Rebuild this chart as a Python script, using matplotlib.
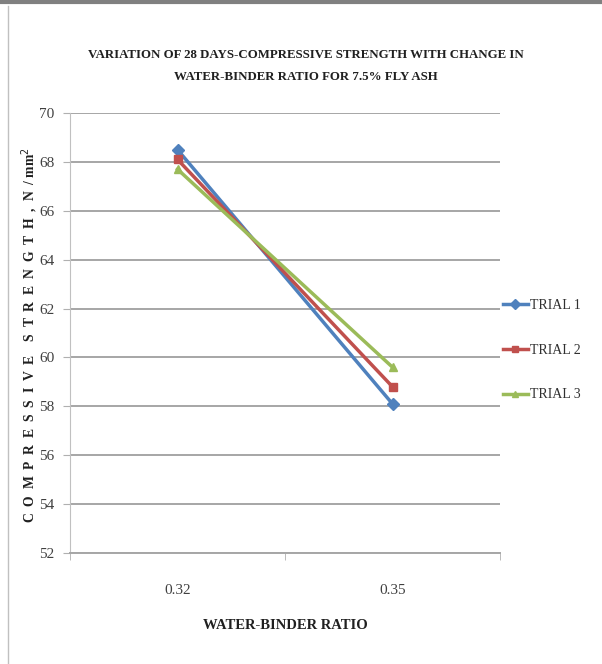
import matplotlib
matplotlib.use("Agg")
import matplotlib.pyplot as plt
from matplotlib.lines import Line2D

categories = ["0.32", "0.35"]
trial1 = [68.5, 58.1]
trial2 = [68.1, 58.8]
trial3 = [67.7, 59.6]
series_names = ["TRIAL 1", "TRIAL 2", "TRIAL 3"]
y_ticks = [52, 54, 56, 58, 60, 62, 64, 66, 68, 70]

colors = ["#4F81BD", "#C0504D", "#9BBB59"]
markers = ["D", "s", "^"]

W, H = 602, 664
fig = plt.figure(figsize=(W / 100, H / 100), dpi=100)
fig.patch.set_facecolor("white")

ax = fig.add_axes([70 / W, 1 - 553 / H, 430 / W, 440 / H])
xs = list(range(len(categories)))
for vals, c, m, name in zip([trial1, trial2, trial3], colors, markers, series_names):
    ax.plot(xs, vals, color=c, marker=m, markersize=6, linewidth=2.5, label=name)

ax.set_xlim(-0.5, len(categories) - 0.5)
ax.set_ylim(52, 70)
ax.set_yticks(y_ticks)
ax.set_yticklabels([str(t) for t in y_ticks], family="Liberation Serif", fontsize=11, color="#404040")
ax.set_xticks(xs)
ax.set_xticklabels(categories, family="Liberation Serif", fontsize=11, color="#404040")
ax.set_xticks([-0.5, 0.5, 1.5], minor=True)
ax.tick_params(axis="x", which="major", length=0, pad=22)
ax.tick_params(axis="x", which="minor", length=5, color="#b0b0b0", direction="out")
ax.tick_params(axis="y", length=5, color="#b0b0b0", pad=6)
ax.grid(axis="y", color="#a6a6a6", linewidth=1.4)
ax.set_axisbelow(True)
for s in ["top", "right"]:
    ax.spines[s].set_visible(False)
ax.spines["left"].set_color("#c0c0c0")
ax.spines["bottom"].set_color("#a6a6a6")
ax.spines["bottom"].set_linewidth(1.4)

ax.set_xlabel("WATER-BINDER RATIO", family="Liberation Serif", fontweight="bold",
              fontsize=10.5, labelpad=16, color="#202020")

ylab_main = "  ".join("COMPRESSIVE") + "    " + "  ".join("STRENGTH,N/")
fig.text(30 / W, 1 - 335 / H, ylab_main + " mm$^2$",
         rotation=90, ha="center", va="center", family="Liberation Serif",
         fontweight="bold", fontsize=9.8, color="#202020")

fig.text(306 / W, 1 - 66 / H,
         "VARIATION OF 28 DAYS-COMPRESSIVE STRENGTH WITH CHANGE IN\nWATER-BINDER RATIO FOR 7.5% FLY ASH",
         ha="center", va="center", family="Liberation Serif", fontweight="bold",
         fontsize=9.3, linespacing=2.2, color="#202020")

handles, labels = ax.get_legend_handles_labels()
leg = fig.legend(handles, labels, loc="center left", bbox_to_anchor=(490 / W, 1 - 350 / H),
                 frameon=False, handlelength=1.8, handletextpad=0.2, labelspacing=2.3,
                 prop={"family": "Liberation Serif", "size": 10}, markerscale=0.8)
for t in leg.get_texts():
    t.set_color("#303030")

fig.add_artist(Line2D([0, 1], [1 - 2 / H, 1 - 2 / H], transform=fig.transFigure,
                      color="#808080", linewidth=3))
fig.add_artist(Line2D([8 / W, 8 / W], [0, 1 - 6 / H], transform=fig.transFigure,
                      color="#c0c0c0", linewidth=1))

fig.savefig("out.png", dpi=100)
